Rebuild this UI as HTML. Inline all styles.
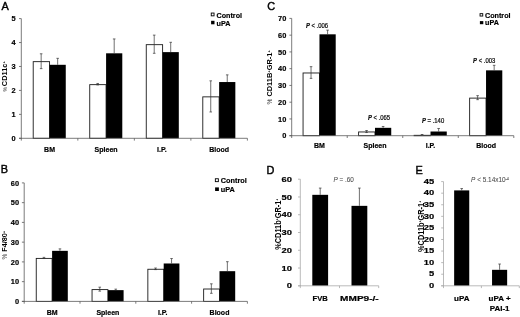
<!DOCTYPE html>
<html><head><meta charset="utf-8"><title>Figure</title>
<style>
html,body{margin:0;padding:0;background:#fff;}
svg{display:block;font-family:"Liberation Sans", sans-serif;filter:blur(0.3px);}
</style></head><body>
<svg width="520" height="317" viewBox="0 0 520 317">
<rect x="0" y="0" width="520" height="317" fill="#fff"/>
<text x="1.50" y="9.90" font-size="10.9" font-weight="normal" stroke="#000" stroke-width="0.42">A</text>
<rect x="33.21" y="61.66" width="16.35" height="76.64" fill="#fff" stroke="#1a1a1a" stroke-width="0.9"/>
<line x1="41.16" y1="53.79" x2="41.16" y2="68.63" stroke="#333" stroke-width="0.7"/>
<line x1="39.86" y1="53.79" x2="42.46" y2="53.79" stroke="#333" stroke-width="0.7"/>
<line x1="39.86" y1="68.63" x2="42.46" y2="68.63" stroke="#333" stroke-width="0.7"/>
<rect x="49.56" y="64.80" width="16.20" height="73.50" fill="#000" stroke="none" stroke-width="0"/>
<line x1="57.66" y1="58.34" x2="57.66" y2="64.80" stroke="#333" stroke-width="0.7"/>
<line x1="56.36" y1="58.34" x2="58.96" y2="58.34" stroke="#333" stroke-width="0.7"/>
<rect x="89.74" y="84.65" width="16.35" height="53.65" fill="#fff" stroke="#1a1a1a" stroke-width="0.9"/>
<line x1="97.69" y1="83.48" x2="97.69" y2="84.91" stroke="#333" stroke-width="0.7"/>
<line x1="96.39" y1="83.48" x2="98.99" y2="83.48" stroke="#333" stroke-width="0.7"/>
<line x1="96.39" y1="84.91" x2="98.99" y2="84.91" stroke="#333" stroke-width="0.7"/>
<rect x="106.09" y="53.31" width="16.20" height="84.99" fill="#000" stroke="none" stroke-width="0"/>
<line x1="114.19" y1="38.95" x2="114.19" y2="53.31" stroke="#333" stroke-width="0.7"/>
<line x1="112.89" y1="38.95" x2="115.49" y2="38.95" stroke="#333" stroke-width="0.7"/>
<rect x="146.26" y="44.67" width="16.35" height="93.63" fill="#fff" stroke="#1a1a1a" stroke-width="0.9"/>
<line x1="154.21" y1="35.12" x2="154.21" y2="53.31" stroke="#333" stroke-width="0.7"/>
<line x1="152.91" y1="35.12" x2="155.51" y2="35.12" stroke="#333" stroke-width="0.7"/>
<line x1="152.91" y1="53.31" x2="155.51" y2="53.31" stroke="#333" stroke-width="0.7"/>
<rect x="162.61" y="52.12" width="16.20" height="86.18" fill="#000" stroke="none" stroke-width="0"/>
<line x1="170.71" y1="42.30" x2="170.71" y2="52.12" stroke="#333" stroke-width="0.7"/>
<line x1="169.41" y1="42.30" x2="172.01" y2="42.30" stroke="#333" stroke-width="0.7"/>
<rect x="202.79" y="96.86" width="16.35" height="41.45" fill="#fff" stroke="#1a1a1a" stroke-width="0.9"/>
<line x1="210.74" y1="80.84" x2="210.74" y2="111.97" stroke="#333" stroke-width="0.7"/>
<line x1="209.44" y1="80.84" x2="212.04" y2="80.84" stroke="#333" stroke-width="0.7"/>
<line x1="209.44" y1="111.97" x2="212.04" y2="111.97" stroke="#333" stroke-width="0.7"/>
<rect x="219.14" y="82.04" width="16.20" height="56.26" fill="#000" stroke="none" stroke-width="0"/>
<line x1="227.24" y1="74.86" x2="227.24" y2="82.04" stroke="#333" stroke-width="0.7"/>
<line x1="225.94" y1="74.86" x2="228.54" y2="74.86" stroke="#333" stroke-width="0.7"/>
<line x1="21.30" y1="18.60" x2="21.30" y2="138.70" stroke="#5a5a5a" stroke-width="0.8"/>
<line x1="19.00" y1="138.30" x2="247.40" y2="138.30" stroke="#5a5a5a" stroke-width="0.8"/>
<line x1="19.00" y1="138.30" x2="21.30" y2="138.30" stroke="#5a5a5a" stroke-width="0.8"/>
<text x="15.60" y="140.90" font-size="7.4" font-weight="bold" text-anchor="end" fill="#000" stroke="#000" stroke-width="0.18">0</text>
<line x1="19.00" y1="114.36" x2="21.30" y2="114.36" stroke="#5a5a5a" stroke-width="0.8"/>
<text x="15.60" y="116.96" font-size="7.4" font-weight="bold" text-anchor="end" fill="#000" stroke="#000" stroke-width="0.18">1</text>
<line x1="19.00" y1="90.42" x2="21.30" y2="90.42" stroke="#5a5a5a" stroke-width="0.8"/>
<text x="15.60" y="93.02" font-size="7.4" font-weight="bold" text-anchor="end" fill="#000" stroke="#000" stroke-width="0.18">2</text>
<line x1="19.00" y1="66.48" x2="21.30" y2="66.48" stroke="#5a5a5a" stroke-width="0.8"/>
<text x="15.60" y="69.08" font-size="7.4" font-weight="bold" text-anchor="end" fill="#000" stroke="#000" stroke-width="0.18">3</text>
<line x1="19.00" y1="42.54" x2="21.30" y2="42.54" stroke="#5a5a5a" stroke-width="0.8"/>
<text x="15.60" y="45.14" font-size="7.4" font-weight="bold" text-anchor="end" fill="#000" stroke="#000" stroke-width="0.18">4</text>
<line x1="19.00" y1="18.60" x2="21.30" y2="18.60" stroke="#5a5a5a" stroke-width="0.8"/>
<text x="15.60" y="21.20" font-size="7.4" font-weight="bold" text-anchor="end" fill="#000" stroke="#000" stroke-width="0.18">5</text>
<line x1="21.30" y1="138.30" x2="21.30" y2="140.60" stroke="#5a5a5a" stroke-width="0.8"/>
<line x1="77.83" y1="138.30" x2="77.83" y2="140.60" stroke="#5a5a5a" stroke-width="0.8"/>
<line x1="134.35" y1="138.30" x2="134.35" y2="140.60" stroke="#5a5a5a" stroke-width="0.8"/>
<line x1="190.88" y1="138.30" x2="190.88" y2="140.60" stroke="#5a5a5a" stroke-width="0.8"/>
<line x1="247.40" y1="138.30" x2="247.40" y2="140.60" stroke="#5a5a5a" stroke-width="0.8"/>
<text x="49.56" y="151.50" font-size="7.0" font-weight="bold" text-anchor="middle" fill="#000" stroke="#000" stroke-width="0.18">BM</text>
<text x="106.09" y="151.50" font-size="7.0" font-weight="bold" text-anchor="middle" fill="#000" stroke="#000" stroke-width="0.18">Spleen</text>
<text x="161.81" y="151.50" font-size="7.0" font-weight="bold" text-anchor="middle" fill="#000" stroke="#000" stroke-width="0.18">I.P.</text>
<text x="219.14" y="151.50" font-size="7.0" font-weight="bold" text-anchor="middle" fill="#000" stroke="#000" stroke-width="0.18">Blood</text>
<text transform="translate(7.00,91.60) rotate(-90) scale(1.0,1)" font-weight="bold" font-size="7.4"><tspan font-size="5.2" fill="#777" font-weight="bold">%</tspan><tspan dx="0.8">CD11c<tspan font-size="4.2" dy="-2.4">+</tspan></tspan></text>
<rect x="211.25" y="13.05" width="2.80" height="2.80" fill="#fff" stroke="#000" stroke-width="0.9"/>
<text x="216.50" y="17.70" font-size="7.2" font-weight="bold" text-anchor="start" fill="#000" stroke="#000" stroke-width="0.18">Control</text>
<rect x="211.10" y="20.80" width="3.40" height="3.50" fill="#000" stroke="none" stroke-width="0"/>
<text x="216.50" y="25.70" font-size="7.2" font-weight="bold" text-anchor="start" fill="#000" stroke="#000" stroke-width="0.18">uPA</text>
<text x="0.80" y="172.90" font-size="10.9" font-weight="normal" stroke="#000" stroke-width="0.42">B</text>
<rect x="36.25" y="258.40" width="15.85" height="43.00" fill="#fff" stroke="#1a1a1a" stroke-width="0.9"/>
<line x1="43.95" y1="257.36" x2="43.95" y2="258.54" stroke="#333" stroke-width="0.7"/>
<line x1="42.65" y1="257.36" x2="45.25" y2="257.36" stroke="#333" stroke-width="0.7"/>
<line x1="42.65" y1="258.54" x2="45.25" y2="258.54" stroke="#333" stroke-width="0.7"/>
<rect x="52.10" y="250.84" width="15.70" height="50.56" fill="#000" stroke="none" stroke-width="0"/>
<line x1="59.95" y1="248.86" x2="59.95" y2="250.84" stroke="#333" stroke-width="0.7"/>
<line x1="58.65" y1="248.86" x2="61.25" y2="248.86" stroke="#333" stroke-width="0.7"/>
<rect x="92.05" y="289.60" width="15.85" height="11.80" fill="#fff" stroke="#1a1a1a" stroke-width="0.9"/>
<line x1="99.75" y1="287.18" x2="99.75" y2="291.13" stroke="#333" stroke-width="0.7"/>
<line x1="98.45" y1="287.18" x2="101.05" y2="287.18" stroke="#333" stroke-width="0.7"/>
<line x1="98.45" y1="291.13" x2="101.05" y2="291.13" stroke="#333" stroke-width="0.7"/>
<rect x="107.90" y="290.14" width="15.70" height="11.26" fill="#000" stroke="none" stroke-width="0"/>
<line x1="115.75" y1="289.15" x2="115.75" y2="290.14" stroke="#333" stroke-width="0.7"/>
<line x1="114.45" y1="289.15" x2="117.05" y2="289.15" stroke="#333" stroke-width="0.7"/>
<rect x="147.85" y="269.26" width="15.85" height="32.14" fill="#fff" stroke="#1a1a1a" stroke-width="0.9"/>
<line x1="155.55" y1="268.02" x2="155.55" y2="269.60" stroke="#333" stroke-width="0.7"/>
<line x1="154.25" y1="268.02" x2="156.85" y2="268.02" stroke="#333" stroke-width="0.7"/>
<line x1="154.25" y1="269.60" x2="156.85" y2="269.60" stroke="#333" stroke-width="0.7"/>
<rect x="163.70" y="263.48" width="15.70" height="37.92" fill="#000" stroke="none" stroke-width="0"/>
<line x1="171.55" y1="258.54" x2="171.55" y2="263.48" stroke="#333" stroke-width="0.7"/>
<line x1="170.25" y1="258.54" x2="172.85" y2="258.54" stroke="#333" stroke-width="0.7"/>
<rect x="203.65" y="289.01" width="15.85" height="12.39" fill="#fff" stroke="#1a1a1a" stroke-width="0.9"/>
<line x1="211.35" y1="283.82" x2="211.35" y2="293.30" stroke="#333" stroke-width="0.7"/>
<line x1="210.05" y1="283.82" x2="212.65" y2="283.82" stroke="#333" stroke-width="0.7"/>
<line x1="210.05" y1="293.30" x2="212.65" y2="293.30" stroke="#333" stroke-width="0.7"/>
<rect x="219.50" y="271.18" width="15.70" height="30.22" fill="#000" stroke="none" stroke-width="0"/>
<line x1="227.35" y1="261.70" x2="227.35" y2="271.18" stroke="#333" stroke-width="0.7"/>
<line x1="226.05" y1="261.70" x2="228.65" y2="261.70" stroke="#333" stroke-width="0.7"/>
<line x1="24.20" y1="182.90" x2="24.20" y2="301.80" stroke="#5a5a5a" stroke-width="0.8"/>
<line x1="21.90" y1="301.40" x2="247.40" y2="301.40" stroke="#5a5a5a" stroke-width="0.8"/>
<line x1="21.90" y1="301.40" x2="24.20" y2="301.40" stroke="#5a5a5a" stroke-width="0.8"/>
<text x="19.00" y="304.00" font-size="7.4" font-weight="bold" text-anchor="end" fill="#000" stroke="#000" stroke-width="0.18">0</text>
<line x1="21.90" y1="281.65" x2="24.20" y2="281.65" stroke="#5a5a5a" stroke-width="0.8"/>
<text x="19.00" y="284.25" font-size="7.4" font-weight="bold" text-anchor="end" fill="#000" stroke="#000" stroke-width="0.18">10</text>
<line x1="21.90" y1="261.90" x2="24.20" y2="261.90" stroke="#5a5a5a" stroke-width="0.8"/>
<text x="19.00" y="264.50" font-size="7.4" font-weight="bold" text-anchor="end" fill="#000" stroke="#000" stroke-width="0.18">20</text>
<line x1="21.90" y1="242.15" x2="24.20" y2="242.15" stroke="#5a5a5a" stroke-width="0.8"/>
<text x="19.00" y="244.75" font-size="7.4" font-weight="bold" text-anchor="end" fill="#000" stroke="#000" stroke-width="0.18">30</text>
<line x1="21.90" y1="222.40" x2="24.20" y2="222.40" stroke="#5a5a5a" stroke-width="0.8"/>
<text x="19.00" y="225.00" font-size="7.4" font-weight="bold" text-anchor="end" fill="#000" stroke="#000" stroke-width="0.18">40</text>
<line x1="21.90" y1="202.65" x2="24.20" y2="202.65" stroke="#5a5a5a" stroke-width="0.8"/>
<text x="19.00" y="205.25" font-size="7.4" font-weight="bold" text-anchor="end" fill="#000" stroke="#000" stroke-width="0.18">50</text>
<line x1="21.90" y1="182.90" x2="24.20" y2="182.90" stroke="#5a5a5a" stroke-width="0.8"/>
<text x="19.00" y="185.50" font-size="7.4" font-weight="bold" text-anchor="end" fill="#000" stroke="#000" stroke-width="0.18">60</text>
<line x1="24.20" y1="301.40" x2="24.20" y2="303.70" stroke="#5a5a5a" stroke-width="0.8"/>
<line x1="80.00" y1="301.40" x2="80.00" y2="303.70" stroke="#5a5a5a" stroke-width="0.8"/>
<line x1="135.80" y1="301.40" x2="135.80" y2="303.70" stroke="#5a5a5a" stroke-width="0.8"/>
<line x1="191.60" y1="301.40" x2="191.60" y2="303.70" stroke="#5a5a5a" stroke-width="0.8"/>
<line x1="247.40" y1="301.40" x2="247.40" y2="303.70" stroke="#5a5a5a" stroke-width="0.8"/>
<text x="52.10" y="314.60" font-size="7.0" font-weight="bold" text-anchor="middle" fill="#000" stroke="#000" stroke-width="0.18">BM</text>
<text x="107.90" y="314.60" font-size="7.0" font-weight="bold" text-anchor="middle" fill="#000" stroke="#000" stroke-width="0.18">Spleen</text>
<text x="162.70" y="314.60" font-size="7.0" font-weight="bold" text-anchor="middle" fill="#000" stroke="#000" stroke-width="0.18">I.P.</text>
<text x="219.50" y="314.60" font-size="7.0" font-weight="bold" text-anchor="middle" fill="#000" stroke="#000" stroke-width="0.18">Blood</text>
<text transform="translate(7.30,259.50) rotate(-90) scale(1.0,1)" font-weight="bold" font-size="7.2"><tspan font-size="6.5" fill="#333" font-weight="normal">%</tspan><tspan dx="2.0">F4/80<tspan font-size="4.2" dy="-2.4">+</tspan></tspan></text>
<rect x="215.35" y="178.75" width="3.00" height="2.90" fill="#fff" stroke="#000" stroke-width="0.9"/>
<text x="220.80" y="182.60" font-size="7.3" font-weight="bold" text-anchor="start" fill="#000" stroke="#000" stroke-width="0.18">Control</text>
<rect x="215.10" y="187.40" width="3.80" height="3.60" fill="#000" stroke="none" stroke-width="0"/>
<text x="220.80" y="191.70" font-size="7.3" font-weight="bold" text-anchor="start" fill="#000" stroke="#000" stroke-width="0.18">uPA</text>
<text x="267.30" y="10.30" font-size="10.9" font-weight="normal" stroke="#000" stroke-width="0.42">C</text>
<rect x="303.06" y="72.98" width="16.40" height="62.72" fill="#fff" stroke="#1a1a1a" stroke-width="0.9"/>
<line x1="311.04" y1="66.66" x2="311.04" y2="78.39" stroke="#333" stroke-width="0.7"/>
<line x1="309.74" y1="66.66" x2="312.34" y2="66.66" stroke="#333" stroke-width="0.7"/>
<line x1="309.74" y1="78.39" x2="312.34" y2="78.39" stroke="#333" stroke-width="0.7"/>
<rect x="319.46" y="34.32" width="16.25" height="101.38" fill="#000" stroke="none" stroke-width="0"/>
<line x1="327.59" y1="30.13" x2="327.59" y2="34.32" stroke="#333" stroke-width="0.7"/>
<line x1="326.29" y1="30.13" x2="328.89" y2="30.13" stroke="#333" stroke-width="0.7"/>
<rect x="358.59" y="131.96" width="16.40" height="3.74" fill="#fff" stroke="#1a1a1a" stroke-width="0.9"/>
<line x1="366.56" y1="130.51" x2="366.56" y2="132.52" stroke="#333" stroke-width="0.7"/>
<line x1="365.26" y1="130.51" x2="367.86" y2="130.51" stroke="#333" stroke-width="0.7"/>
<line x1="365.26" y1="132.52" x2="367.86" y2="132.52" stroke="#333" stroke-width="0.7"/>
<rect x="374.99" y="127.82" width="16.25" height="7.88" fill="#000" stroke="none" stroke-width="0"/>
<line x1="383.11" y1="126.48" x2="383.11" y2="127.82" stroke="#333" stroke-width="0.7"/>
<line x1="381.81" y1="126.48" x2="384.41" y2="126.48" stroke="#333" stroke-width="0.7"/>
<rect x="414.11" y="135.31" width="16.40" height="0.39" fill="#fff" stroke="#1a1a1a" stroke-width="0.9"/>
<line x1="422.09" y1="134.53" x2="422.09" y2="135.20" stroke="#333" stroke-width="0.7"/>
<line x1="420.79" y1="134.53" x2="423.39" y2="134.53" stroke="#333" stroke-width="0.7"/>
<line x1="420.79" y1="135.20" x2="423.39" y2="135.20" stroke="#333" stroke-width="0.7"/>
<rect x="430.51" y="131.51" width="16.25" height="4.19" fill="#000" stroke="none" stroke-width="0"/>
<line x1="438.64" y1="128.49" x2="438.64" y2="131.51" stroke="#333" stroke-width="0.7"/>
<line x1="437.34" y1="128.49" x2="439.94" y2="128.49" stroke="#333" stroke-width="0.7"/>
<rect x="469.64" y="98.11" width="16.40" height="37.59" fill="#fff" stroke="#1a1a1a" stroke-width="0.9"/>
<line x1="477.61" y1="95.65" x2="477.61" y2="99.67" stroke="#333" stroke-width="0.7"/>
<line x1="476.31" y1="95.65" x2="478.91" y2="95.65" stroke="#333" stroke-width="0.7"/>
<line x1="476.31" y1="99.67" x2="478.91" y2="99.67" stroke="#333" stroke-width="0.7"/>
<rect x="486.04" y="70.35" width="16.25" height="65.35" fill="#000" stroke="none" stroke-width="0"/>
<line x1="494.16" y1="65.32" x2="494.16" y2="70.35" stroke="#333" stroke-width="0.7"/>
<line x1="492.86" y1="65.32" x2="495.46" y2="65.32" stroke="#333" stroke-width="0.7"/>
<line x1="291.70" y1="18.40" x2="291.70" y2="136.10" stroke="#5a5a5a" stroke-width="0.8"/>
<line x1="289.40" y1="135.70" x2="513.80" y2="135.70" stroke="#5a5a5a" stroke-width="0.8"/>
<line x1="289.40" y1="135.70" x2="291.70" y2="135.70" stroke="#5a5a5a" stroke-width="0.8"/>
<text x="286.30" y="138.30" font-size="7.4" font-weight="bold" text-anchor="end" fill="#000" stroke="#000" stroke-width="0.18">0</text>
<line x1="289.40" y1="118.94" x2="291.70" y2="118.94" stroke="#5a5a5a" stroke-width="0.8"/>
<text x="286.30" y="121.54" font-size="7.4" font-weight="bold" text-anchor="end" fill="#000" stroke="#000" stroke-width="0.18">10</text>
<line x1="289.40" y1="102.19" x2="291.70" y2="102.19" stroke="#5a5a5a" stroke-width="0.8"/>
<text x="286.30" y="104.79" font-size="7.4" font-weight="bold" text-anchor="end" fill="#000" stroke="#000" stroke-width="0.18">20</text>
<line x1="289.40" y1="85.43" x2="291.70" y2="85.43" stroke="#5a5a5a" stroke-width="0.8"/>
<text x="286.30" y="88.03" font-size="7.4" font-weight="bold" text-anchor="end" fill="#000" stroke="#000" stroke-width="0.18">30</text>
<line x1="289.40" y1="68.67" x2="291.70" y2="68.67" stroke="#5a5a5a" stroke-width="0.8"/>
<text x="286.30" y="71.27" font-size="7.4" font-weight="bold" text-anchor="end" fill="#000" stroke="#000" stroke-width="0.18">40</text>
<line x1="289.40" y1="51.91" x2="291.70" y2="51.91" stroke="#5a5a5a" stroke-width="0.8"/>
<text x="286.30" y="54.51" font-size="7.4" font-weight="bold" text-anchor="end" fill="#000" stroke="#000" stroke-width="0.18">50</text>
<line x1="289.40" y1="35.16" x2="291.70" y2="35.16" stroke="#5a5a5a" stroke-width="0.8"/>
<text x="286.30" y="37.76" font-size="7.4" font-weight="bold" text-anchor="end" fill="#000" stroke="#000" stroke-width="0.18">60</text>
<line x1="289.40" y1="18.40" x2="291.70" y2="18.40" stroke="#5a5a5a" stroke-width="0.8"/>
<text x="286.30" y="21.00" font-size="7.4" font-weight="bold" text-anchor="end" fill="#000" stroke="#000" stroke-width="0.18">70</text>
<line x1="291.70" y1="135.70" x2="291.70" y2="138.00" stroke="#5a5a5a" stroke-width="0.8"/>
<line x1="347.22" y1="135.70" x2="347.22" y2="138.00" stroke="#5a5a5a" stroke-width="0.8"/>
<line x1="402.75" y1="135.70" x2="402.75" y2="138.00" stroke="#5a5a5a" stroke-width="0.8"/>
<line x1="458.27" y1="135.70" x2="458.27" y2="138.00" stroke="#5a5a5a" stroke-width="0.8"/>
<line x1="513.80" y1="135.70" x2="513.80" y2="138.00" stroke="#5a5a5a" stroke-width="0.8"/>
<text x="319.46" y="148.40" font-size="7.0" font-weight="bold" text-anchor="middle" fill="#000" stroke="#000" stroke-width="0.18">BM</text>
<text x="374.99" y="148.40" font-size="7.0" font-weight="bold" text-anchor="middle" fill="#000" stroke="#000" stroke-width="0.18">Spleen</text>
<text x="430.51" y="148.40" font-size="7.0" font-weight="bold" text-anchor="middle" fill="#000" stroke="#000" stroke-width="0.18">I.P.</text>
<text x="486.04" y="148.40" font-size="7.0" font-weight="bold" text-anchor="middle" fill="#000" stroke="#000" stroke-width="0.18">Blood</text>
<text transform="translate(272.10,104.50) rotate(-90) scale(1.0,1)" font-weight="bold" font-size="7.4"><tspan font-size="6.6" fill="#333" font-weight="normal">%</tspan><tspan dx="0"> CD11B<tspan font-size="4.2" dy="-2.4">+</tspan><tspan dy="2.4">GR-1</tspan><tspan font-size="4.2" dy="-2.4">+</tspan></tspan></text>
<rect x="480.05" y="13.65" width="2.70" height="2.40" fill="#fff" stroke="#000" stroke-width="0.9"/>
<text x="485.00" y="17.90" font-size="7.2" font-weight="bold" text-anchor="start" fill="#000" stroke="#000" stroke-width="0.18">Control</text>
<rect x="479.90" y="21.10" width="3.40" height="3.10" fill="#000" stroke="none" stroke-width="0"/>
<text x="485.00" y="25.00" font-size="7.2" font-weight="bold" text-anchor="start" fill="#000" stroke="#000" stroke-width="0.18">uPA</text>
<text transform="translate(317.00,27.70) scale(0.94,1)" font-size="6.3" text-anchor="middle" fill="#111" stroke="#111" stroke-width="0.22"><tspan font-style="italic" font-weight="bold">P</tspan> &lt; .006</text>
<text transform="translate(379.00,120.20) scale(0.94,1)" font-size="6.3" text-anchor="middle" fill="#111" stroke="#111" stroke-width="0.22"><tspan font-style="italic" font-weight="bold">P</tspan> &lt; .065</text>
<text transform="translate(433.10,123.20) scale(0.94,1)" font-size="6.3" text-anchor="middle" fill="#111" stroke="#111" stroke-width="0.22"><tspan font-style="italic" font-weight="bold">P</tspan> = .140</text>
<text transform="translate(484.20,62.50) scale(0.94,1)" font-size="6.3" text-anchor="middle" fill="#111" stroke="#111" stroke-width="0.22"><tspan font-style="italic" font-weight="bold">P</tspan> &lt; .003</text>
<text x="266.60" y="173.90" font-size="10.9" font-weight="normal" stroke="#000" stroke-width="0.42">D</text>
<rect x="312.30" y="194.83" width="15.80" height="90.97" fill="#000" stroke="none" stroke-width="0"/>
<line x1="320.20" y1="188.08" x2="320.20" y2="194.83" stroke="#333" stroke-width="0.7"/>
<line x1="318.90" y1="188.08" x2="321.50" y2="188.08" stroke="#333" stroke-width="0.7"/>
<rect x="351.50" y="205.85" width="15.80" height="79.95" fill="#000" stroke="none" stroke-width="0"/>
<line x1="359.40" y1="188.08" x2="359.40" y2="205.85" stroke="#333" stroke-width="0.7"/>
<line x1="358.10" y1="188.08" x2="360.70" y2="188.08" stroke="#333" stroke-width="0.7"/>
<line x1="300.30" y1="179.20" x2="300.30" y2="286.20" stroke="#a8a8a8" stroke-width="0.8"/>
<line x1="298.00" y1="285.80" x2="378.70" y2="285.80" stroke="#a8a8a8" stroke-width="0.8"/>
<line x1="298.00" y1="285.80" x2="300.30" y2="285.80" stroke="#a8a8a8" stroke-width="0.8"/>
<text transform="translate(292.00,288.40) scale(1.25,1)" font-size="7.5" font-weight="bold" text-anchor="end" fill="#000" stroke="#000" stroke-width="0.18">0</text>
<line x1="298.00" y1="268.03" x2="300.30" y2="268.03" stroke="#a8a8a8" stroke-width="0.8"/>
<text transform="translate(292.00,270.63) scale(1.25,1)" font-size="7.5" font-weight="bold" text-anchor="end" fill="#000" stroke="#000" stroke-width="0.18">10</text>
<line x1="298.00" y1="250.27" x2="300.30" y2="250.27" stroke="#a8a8a8" stroke-width="0.8"/>
<text transform="translate(292.00,252.87) scale(1.25,1)" font-size="7.5" font-weight="bold" text-anchor="end" fill="#000" stroke="#000" stroke-width="0.18">20</text>
<line x1="298.00" y1="232.50" x2="300.30" y2="232.50" stroke="#a8a8a8" stroke-width="0.8"/>
<text transform="translate(292.00,235.10) scale(1.25,1)" font-size="7.5" font-weight="bold" text-anchor="end" fill="#000" stroke="#000" stroke-width="0.18">30</text>
<line x1="298.00" y1="214.73" x2="300.30" y2="214.73" stroke="#a8a8a8" stroke-width="0.8"/>
<text transform="translate(292.00,217.33) scale(1.25,1)" font-size="7.5" font-weight="bold" text-anchor="end" fill="#000" stroke="#000" stroke-width="0.18">40</text>
<line x1="298.00" y1="196.97" x2="300.30" y2="196.97" stroke="#a8a8a8" stroke-width="0.8"/>
<text transform="translate(292.00,199.57) scale(1.25,1)" font-size="7.5" font-weight="bold" text-anchor="end" fill="#000" stroke="#000" stroke-width="0.18">50</text>
<line x1="298.00" y1="179.20" x2="300.30" y2="179.20" stroke="#a8a8a8" stroke-width="0.8"/>
<text transform="translate(292.00,181.80) scale(1.25,1)" font-size="7.5" font-weight="bold" text-anchor="end" fill="#000" stroke="#000" stroke-width="0.18">60</text>
<line x1="300.30" y1="285.80" x2="300.30" y2="288.10" stroke="#a8a8a8" stroke-width="0.8"/>
<line x1="339.50" y1="285.80" x2="339.50" y2="288.10" stroke="#a8a8a8" stroke-width="0.8"/>
<line x1="378.70" y1="285.80" x2="378.70" y2="288.10" stroke="#a8a8a8" stroke-width="0.8"/>
<text transform="translate(320.20,300.90) scale(1.1,1)" font-size="6.9" font-weight="bold" text-anchor="middle" fill="#000" stroke="#000" stroke-width="0.18">FVB</text>
<text transform="translate(359.40,300.90) scale(1.46,1)" font-size="6.9" font-weight="bold" text-anchor="middle" fill="#000" stroke="#000" stroke-width="0.18">MMP9-/-</text>
<text transform="translate(280.60,249.80) rotate(-90) scale(0.82,1)" font-weight="bold" font-size="9"><tspan font-size="9" fill="#111" font-weight="bold">%</tspan><tspan dx="0">CD11b<tspan font-size="4.2" dy="-2.4">+</tspan><tspan dy="2.4">GR-1</tspan><tspan font-size="4.2" dy="-2.4">+</tspan></tspan></text>
<text transform="translate(343.60,182.20) scale(0.98,1)" font-size="6.5" text-anchor="middle" fill="#484848" stroke="#484848" stroke-width="0.05"><tspan font-style="italic" font-weight="normal">P</tspan> = .60</text>
<text x="415.60" y="173.90" font-size="10.9" font-weight="normal" stroke="#000" stroke-width="0.42">E</text>
<rect x="454.15" y="190.40" width="15.10" height="95.40" fill="#000" stroke="none" stroke-width="0"/>
<line x1="461.70" y1="188.55" x2="461.70" y2="190.40" stroke="#333" stroke-width="0.7"/>
<line x1="460.40" y1="188.55" x2="463.00" y2="188.55" stroke="#333" stroke-width="0.7"/>
<rect x="492.05" y="269.82" width="15.10" height="15.98" fill="#000" stroke="none" stroke-width="0"/>
<line x1="499.60" y1="264.03" x2="499.60" y2="269.82" stroke="#333" stroke-width="0.7"/>
<line x1="498.30" y1="264.03" x2="500.90" y2="264.03" stroke="#333" stroke-width="0.7"/>
<line x1="443.50" y1="181.60" x2="443.50" y2="286.20" stroke="#a8a8a8" stroke-width="0.8"/>
<line x1="441.20" y1="285.80" x2="519.30" y2="285.80" stroke="#a8a8a8" stroke-width="0.8"/>
<line x1="441.20" y1="285.80" x2="443.50" y2="285.80" stroke="#a8a8a8" stroke-width="0.8"/>
<text transform="translate(434.10,288.00) scale(1.25,1)" font-size="7.5" font-weight="bold" text-anchor="end" fill="#000" stroke="#000" stroke-width="0.18">0</text>
<line x1="441.20" y1="274.22" x2="443.50" y2="274.22" stroke="#a8a8a8" stroke-width="0.8"/>
<text transform="translate(434.10,276.42) scale(1.25,1)" font-size="7.5" font-weight="bold" text-anchor="end" fill="#000" stroke="#000" stroke-width="0.18">5</text>
<line x1="441.20" y1="262.64" x2="443.50" y2="262.64" stroke="#a8a8a8" stroke-width="0.8"/>
<text transform="translate(434.10,264.84) scale(1.25,1)" font-size="7.5" font-weight="bold" text-anchor="end" fill="#000" stroke="#000" stroke-width="0.18">10</text>
<line x1="441.20" y1="251.07" x2="443.50" y2="251.07" stroke="#a8a8a8" stroke-width="0.8"/>
<text transform="translate(434.10,253.27) scale(1.25,1)" font-size="7.5" font-weight="bold" text-anchor="end" fill="#000" stroke="#000" stroke-width="0.18">15</text>
<line x1="441.20" y1="239.49" x2="443.50" y2="239.49" stroke="#a8a8a8" stroke-width="0.8"/>
<text transform="translate(434.10,241.69) scale(1.25,1)" font-size="7.5" font-weight="bold" text-anchor="end" fill="#000" stroke="#000" stroke-width="0.18">20</text>
<line x1="441.20" y1="227.91" x2="443.50" y2="227.91" stroke="#a8a8a8" stroke-width="0.8"/>
<text transform="translate(434.10,230.11) scale(1.25,1)" font-size="7.5" font-weight="bold" text-anchor="end" fill="#000" stroke="#000" stroke-width="0.18">25</text>
<line x1="441.20" y1="216.33" x2="443.50" y2="216.33" stroke="#a8a8a8" stroke-width="0.8"/>
<text transform="translate(434.10,218.53) scale(1.25,1)" font-size="7.5" font-weight="bold" text-anchor="end" fill="#000" stroke="#000" stroke-width="0.18">30</text>
<line x1="441.20" y1="204.76" x2="443.50" y2="204.76" stroke="#a8a8a8" stroke-width="0.8"/>
<text transform="translate(434.10,206.96) scale(1.25,1)" font-size="7.5" font-weight="bold" text-anchor="end" fill="#000" stroke="#000" stroke-width="0.18">35</text>
<line x1="441.20" y1="193.18" x2="443.50" y2="193.18" stroke="#a8a8a8" stroke-width="0.8"/>
<text transform="translate(434.10,195.38) scale(1.25,1)" font-size="7.5" font-weight="bold" text-anchor="end" fill="#000" stroke="#000" stroke-width="0.18">40</text>
<line x1="441.20" y1="181.60" x2="443.50" y2="181.60" stroke="#a8a8a8" stroke-width="0.8"/>
<text transform="translate(434.10,183.80) scale(1.25,1)" font-size="7.5" font-weight="bold" text-anchor="end" fill="#000" stroke="#000" stroke-width="0.18">45</text>
<line x1="443.50" y1="285.80" x2="443.50" y2="288.10" stroke="#a8a8a8" stroke-width="0.8"/>
<line x1="481.40" y1="285.80" x2="481.40" y2="288.10" stroke="#a8a8a8" stroke-width="0.8"/>
<line x1="519.30" y1="285.80" x2="519.30" y2="288.10" stroke="#a8a8a8" stroke-width="0.8"/>
<text transform="translate(461.70,301.00) scale(1.16,1)" font-size="6.9" font-weight="bold" text-anchor="middle" fill="#000" stroke="#000" stroke-width="0.18">uPA</text>
<text transform="translate(499.60,301.00) scale(1.16,1)" font-size="6.9" font-weight="bold" text-anchor="middle" fill="#000" stroke="#000" stroke-width="0.18">uPA +</text>
<text transform="translate(499.60,310.70) scale(1.16,1)" font-size="6.9" font-weight="bold" text-anchor="middle" fill="#000" stroke="#000" stroke-width="0.18">PAI-1</text>
<text transform="translate(423.50,252.00) rotate(-90) scale(0.82,1)" font-weight="bold" font-size="9"><tspan font-size="9" fill="#111" font-weight="bold">%</tspan><tspan dx="0">CD11b<tspan font-size="4.2" dy="-2.4">+</tspan><tspan dy="2.4">GR-1</tspan><tspan font-size="4.2" dy="-2.4">+</tspan></tspan></text>
<text transform="translate(490.00,182.30) scale(0.99,1)" font-size="6.5" text-anchor="middle" fill="#484848" stroke="#484848" stroke-width="0.05"><tspan font-style="italic" font-weight="normal">P</tspan> &lt; 5.14x10<tspan font-size="3.8" dy="-2.2">-4</tspan></text>
</svg>
</body></html>
